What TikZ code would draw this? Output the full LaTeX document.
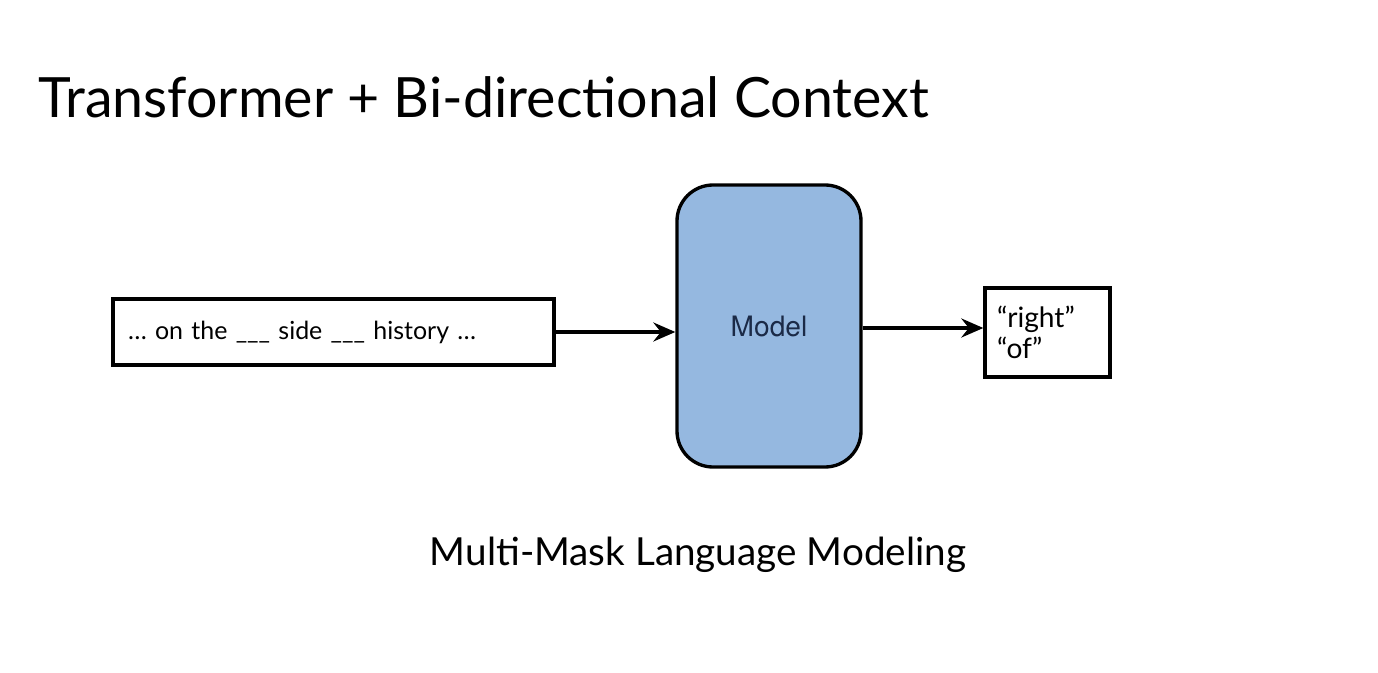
\documentclass[tikz,border=0pt]{standalone}
\usepackage{fontspec}
\setmainfont{Lato}
\newfontfamily\modelfont{TeX Gyre Heros}
\usetikzlibrary{arrows.meta}
\usetikzlibrary{positioning}
\definecolor{modelblue}{HTML}{95B8E0}
\definecolor{modelink}{HTML}{1B2A47}
\tikzset{
  every picture/.style={font={\normalsize}, >={Stealth[length=0.44cm, width=0.38cm, inset=0.15cm]}}}

\begin{document}
\begin{tikzpicture}[line width=1.9pt,
    inbox/.style={draw, rectangle, inner xsep=0.3cm, text width=8.22cm, align=left,
      minimum height=1.32cm, font={\fontsize{14.2}{17}\selectfont}},
    modelbox/.style={draw, rectangle, rounded corners=0.72cm, fill=modelblue,
      minimum width=3.68cm, minimum height=5.64cm, text=modelink,
      font={\modelfont\fontsize{16}{19}\selectfont}},
    outbox/.style={draw, rectangle, inner xsep=0.24cm, text width=2.02cm, align=left,
      minimum height=1.78cm, font={\fontsize{16}{17.5}\selectfont}}]

    \useasboundingbox (0,0) rectangle (27.56,13.44);

    \node[anchor=base west, inner sep=0pt, font={\fontsize{31.6}{38}\selectfont}] (title) at (0.74,11.08)
      {Transformer + Bi-directional Context};

    \node[modelbox] (model) at (15.38,6.92) {Model};
    \node[inbox] (ctx) at (6.67,6.8) {… on the \_\_\_ side \_\_\_ history …};
    \node[outbox] (words) at (20.95,6.79) {“right”\\“of”};

    \draw[->] (ctx.east) -- (ctx.east -| model.west);
    \draw[->] ([yshift=-0.04cm]model.east) -- ([yshift=-0.04cm]model.east -| words.west);

    \node[anchor=base, font={\fontsize{22}{26}\selectfont}] (caption) at (13.96,2.14)
      {Multi-Mask Language Modeling};
  \end{tikzpicture}
\end{document}
